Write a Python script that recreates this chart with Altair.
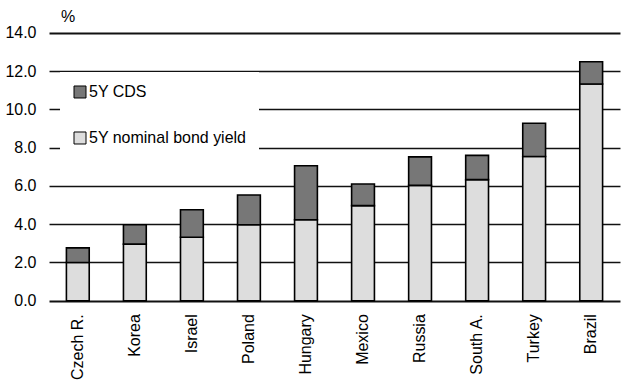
import altair as alt
import pandas as pd

countries = ["Czech R.", "Korea", "Israel", "Poland", "Hungary", "Mexico", "Russia", "South A.", "Turkey", "Brazil"]
bond_yield = [2.0, 2.96, 3.32, 3.97, 4.23, 4.97, 6.03, 6.33, 7.54, 11.33]
cds = [0.76, 1.01, 1.44, 1.56, 2.83, 1.13, 1.49, 1.27, 1.74, 1.17]
series = ["5Y CDS", "5Y nominal bond yield"]
y_ticks = [0, 2, 4, 6, 8, 10, 12, 14]

rows = []
for c, b, d in zip(countries, bond_yield, cds):
    rows.append({"country": c, "series": series[1], "value": b, "ord": 0})
    rows.append({"country": c, "series": series[0], "value": d, "ord": 1})
df = pd.DataFrame(rows)

FONT = "Liberation Sans"

chart = alt.Chart(df).mark_bar(stroke="black", strokeWidth=1.6, strokeOpacity=1).encode(
    x=alt.X("country:N", sort=countries,
            scale=alt.Scale(paddingInner=0.6, paddingOuter=0.305, range=[0, 571]),
            axis=alt.Axis(title=None, labelAngle=-90, labelAlign="right", labelBaseline="middle",
                          labelPadding=13, ticks=False, domain=False, labelFont=FONT,
                          labelFontSize=16, labelColor="black")),
    y=alt.Y("value:Q", stack="zero",
            scale=alt.Scale(domain=[0, 14], nice=False),
            axis=alt.Axis(values=y_ticks, format=".1f", title="%", titleAngle=0,
                          titleX=18.5, titleY=-11, titleAlign="center", titleBaseline="alphabetic",
                          titleFont=FONT, titleFontSize=16, titleFontWeight="normal", titleColor="black",
                          labelFont=FONT, labelFontSize=16, labelColor="black", labelPadding=13,
                          ticks=False, domain=False, grid=True, gridOpacity=1,
                          gridColor="#111111",
                          gridWidth={"condition": {"test": "datum.value == 0 || datum.value == 14", "value": 2}, "value": 1.4})),
    color=alt.Color("series:N", scale=alt.Scale(domain=series, range=["#777777", "#dddddd"]),
                    legend=alt.Legend(title=None, orient="none", legendX=11, legendY=39,
                                      fillColor="white", padding=12, rowPadding=30,
                                      symbolType="square", symbolSize=144, symbolStrokeColor="black",
                                      symbolStrokeWidth=1, labelFont=FONT, labelFontSize=16,
                                      labelColor="black", labelOffset=1, symbolOpacity=1)),
    order=alt.Order("ord:Q"),
).properties(
    width=577, height=267.7,
    autosize=alt.AutoSizeParams(type="none"),
    padding={"left": 49, "top": 33, "right": 0, "bottom": 82},
).configure_view(stroke=None)

chart.save("out.html", embed_options={"renderer": "svg", "actions": False})
